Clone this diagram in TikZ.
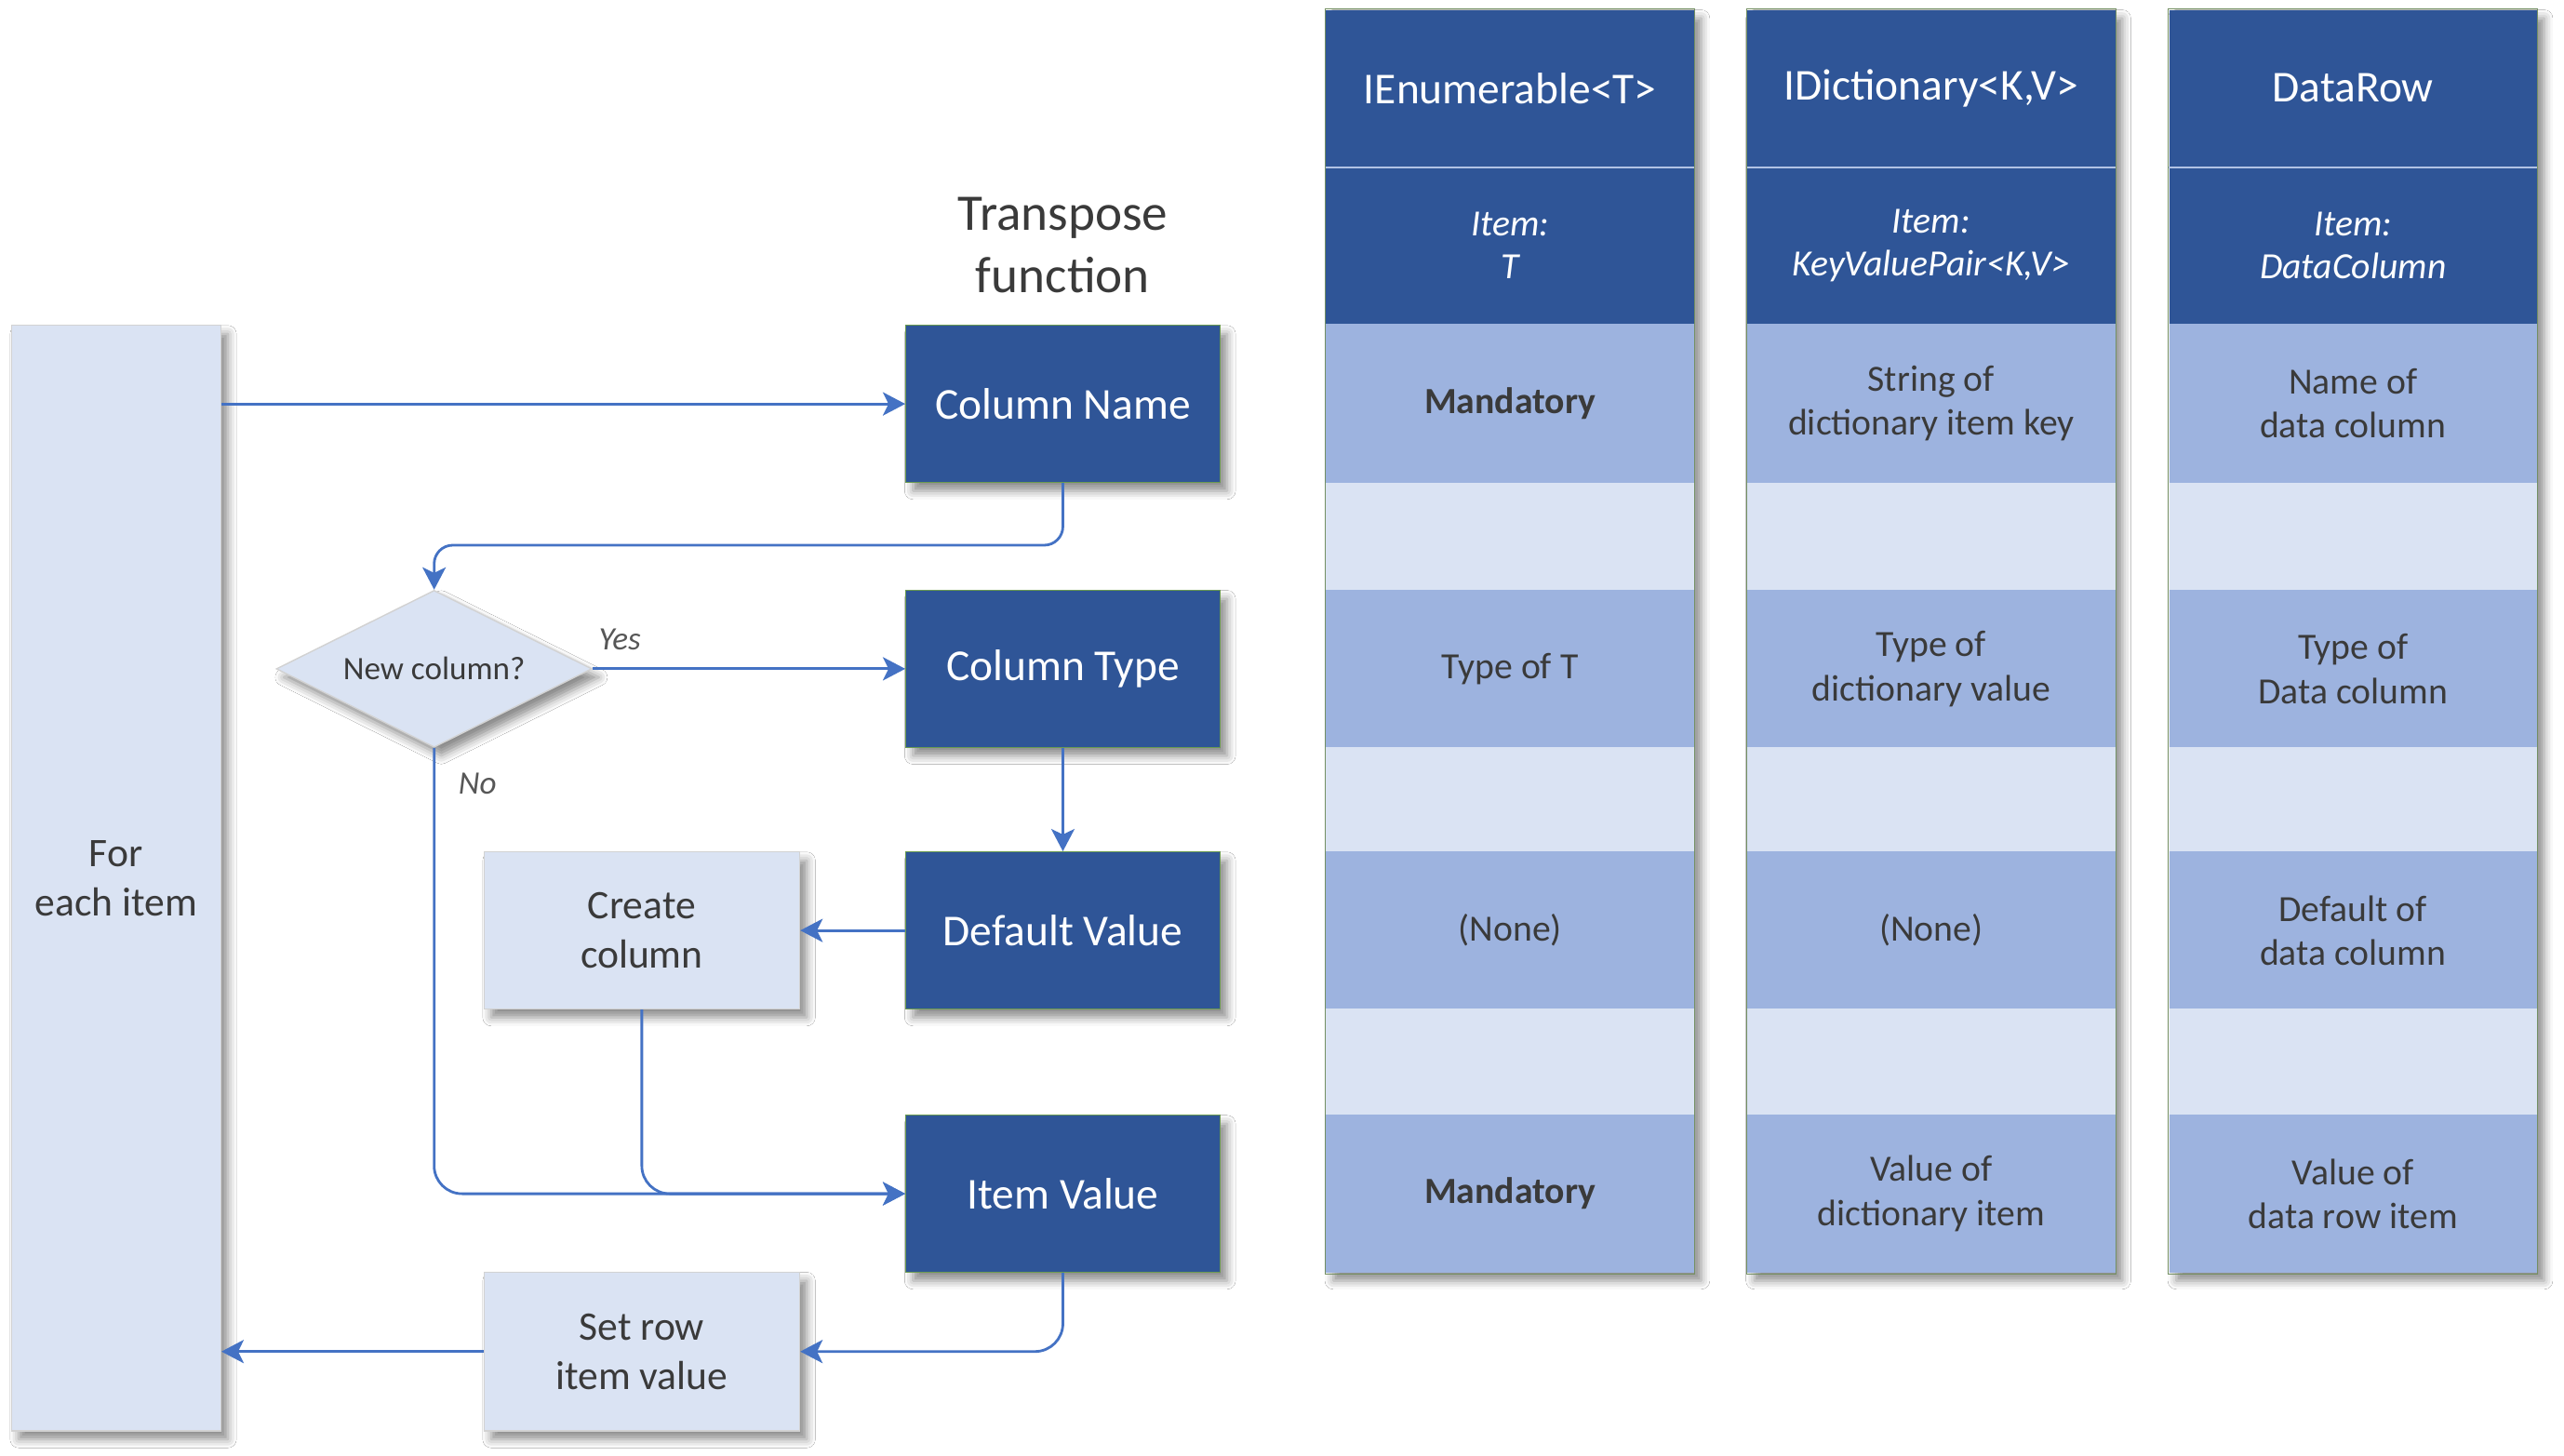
\documentclass[tikz,border=0pt]{standalone}
\usepackage{fontspec}
\setmainfont{Carlito}
\usetikzlibrary{shapes.geometric,arrows.meta,shadows.blur}
\definecolor{dkblue}{HTML}{2F5597}
\definecolor{mdblue}{HTML}{9DB3DF}
\definecolor{ltblue}{HTML}{DAE3F3}
\definecolor{arrowblue}{HTML}{4472C4}
\definecolor{txtgray}{HTML}{3A3A3A}
\definecolor{edgegreen}{HTML}{6A9A50}
\newcommand\pxu{0.017577cm}
\tikzset{
  shad/.style={blur shadow={shadow xshift=2.2pt,shadow yshift=-2.6pt,shadow blur radius=2.6pt,shadow opacity=45}},
  darkbox/.style={rectangle,shad,fill=dkblue,draw=edgegreen,line width=0.4pt,text=white,
    font=\fontsize{13.5}{16}\selectfont,minimum width=192*\pxu,minimum height=96*\pxu,inner sep=0pt,align=center},
  lightbox/.style={rectangle,shad,fill=ltblue,draw=gray!35,line width=0.4pt,text=txtgray,
    font=\fontsize{12.4}{15}\selectfont,minimum width=193*\pxu,minimum height=96*\pxu,inner sep=0pt,align=center},
  decision/.style={diamond,aspect=2,shad,fill=ltblue,draw=gray!35,line width=0.4pt,text=txtgray,
    font=\fontsize{10}{12}\selectfont,minimum width=193*\pxu,minimum height=96*\pxu,inner sep=1pt},
  arr/.style={draw=arrowblue,line width=0.8pt,-{Stealth[length=0.24cm,width=0.25cm,inset=0.06cm]}},
  lbl/.style={font=\fontsize{10}{12}\selectfont\itshape,text=txtgray!85,inner sep=0pt},
  cell/.style={rectangle,minimum width=225*\pxu,inner sep=0pt,align=center},
  hdcell/.style={cell,fill=dkblue,text=white,font=\fontsize{13.5}{16}\selectfont,minimum height=96*\pxu},
  itcell/.style={cell,fill=dkblue,text=white,font=\fontsize{11.3}{13}\selectfont\itshape,minimum height=96*\pxu},
  mdcell/.style={cell,fill=mdblue,text=txtgray,font=\fontsize{11.3}{13.5}\selectfont,minimum height=97*\pxu},
  gapcell/.style={cell,fill=ltblue,minimum height=#1*\pxu},
  colback/.style={shad,fill=white},
}
\begin{document}
\begin{tikzpicture}[x=0.017577cm,y=-0.017577cm]
\useasboundingbox[fill=white] (0,0) rectangle (1568,890);

% ---------- flow chart ----------
\node[lightbox,minimum width=128*\pxu,minimum height=676*\pxu] (fe) at (71,537) {For\\each item};
\node[font=\fontsize{15.7}{19}\selectfont,text=txtgray,align=center] (title) at (650,150) {Transpose\\function};
\node[darkbox] (cn) at (650,247) {Column Name};
\node[darkbox] (ct) at (650,409) {Column Type};
\node[darkbox] (dv) at (650,569) {Default Value};
\node[darkbox] (iv) at (650,730) {Item Value};
\node[lightbox] (cc) at (392.5,569) {Create\\column};
\node[lightbox,minimum height=97*\pxu] (sr) at (392.5,826.5) {Set row\\item value};
\node[decision] (dm) at (265.5,409) {New column?};
\node[lbl] (yes) at (379,391) {Yes};
\node[lbl] (no) at (292,479) {No};

\draw[arr] (fe.east |- cn.west) -- (cn.west);
\draw[arr,rounded corners=0.2cm] (cn.south) -- ++(0,38) -| (dm.north);
\draw[arr] (dm.east) -- (ct.west);
\draw[arr] (ct.south) -- (dv.north);
\draw[arr] (dv.west) -- (cc.east);
\draw[arr,rounded corners=0.3cm] (dm.south) |- (iv.west);
\draw[arr,rounded corners=0.3cm] (cc.south) |- (iv.west);
\draw[arr,rounded corners=0.3cm] (iv.south) |- (sr.east);
\draw[arr] (sr.west) -- (sr.west -| fe.east);

% ---------- tables ----------
\foreach \cx in {923.5,1181,1439}{
  \path[colback] (\cx-112.5,6) rectangle (\cx+112.5,778);
}
% column 1
\node[hdcell] (a1) at (923.5,54) {IEnumerable<T>};
\node[itcell] (a2) at (923.5,150) {Item:\\T};
\node[mdcell] (a3) at (923.5,246.5) {\textbf{Mandatory}};
\node[gapcell=66] (a4) at (923.5,328) {};
\node[mdcell] (a5) at (923.5,409) {Type of T};
\node[gapcell=64] (a6) at (923.5,489) {};
\node[mdcell] (a7) at (923.5,569) {(None)};
\node[gapcell=65] (a8) at (923.5,649.5) {};
\node[mdcell] (a9) at (923.5,730) {\textbf{Mandatory}};
% column 2
\node[hdcell] (b1) at (1181,54) {IDictionary<K,V>};
\node[itcell] (b2) at (1181,150) {Item:\\KeyValuePair<K,V>};
\node[mdcell] (b3) at (1181,246.5) {String of\\dictionary item key};
\node[gapcell=66] (b4) at (1181,328) {};
\node[mdcell] (b5) at (1181,409) {Type of\\dictionary value};
\node[gapcell=64] (b6) at (1181,489) {};
\node[mdcell] (b7) at (1181,569) {(None)};
\node[gapcell=65] (b8) at (1181,649.5) {};
\node[mdcell] (b9) at (1181,730) {Value of\\dictionary item};
% column 3
\node[hdcell] (c1) at (1439,54) {DataRow};
\node[itcell] (c2) at (1439,150) {Item:\\DataColumn};
\node[mdcell] (c3) at (1439,246.5) {Name of\\data column};
\node[gapcell=66] (c4) at (1439,328) {};
\node[mdcell] (c5) at (1439,409) {Type of\\Data column};
\node[gapcell=64] (c6) at (1439,489) {};
\node[mdcell] (c7) at (1439,569) {Default of\\data column};
\node[gapcell=65] (c8) at (1439,649.5) {};
\node[mdcell] (c9) at (1439,730) {Value of\\data row item};

\foreach \c in {a,b,c}{
  \draw[draw=mdblue!80!white,line width=0.4pt] (\c1.south west) -- (\c1.south east);
  \draw[draw=edgegreen!60!gray,line width=0.3pt] (\c1.north west) rectangle (\c9.south east);
}
\end{tikzpicture}
\end{document}
